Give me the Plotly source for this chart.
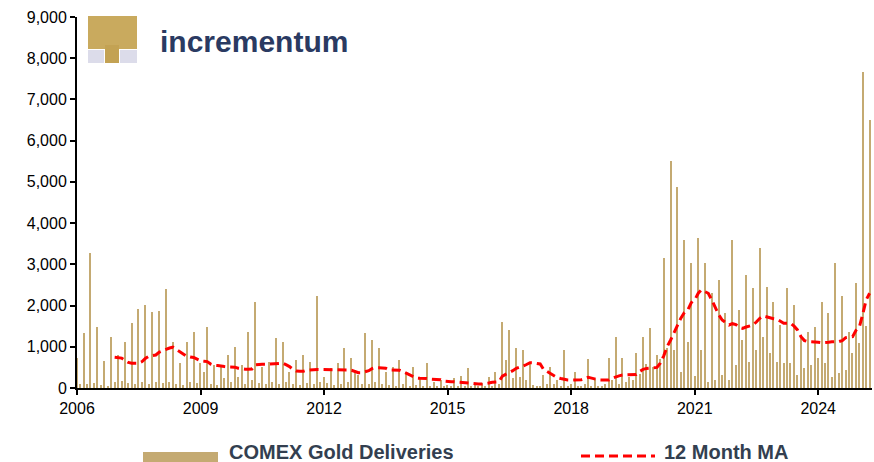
import pandas as pd
import plotly.graph_objects as go

# Monthly COMEX gold deliveries, Jan 2006 .. Apr 2025
deliveries = [
    # 2006
    735, 90, 1342, 100, 3270, 120, 1473, 80, 655, 60, 1246, 150,
    # 2007
    800, 180, 1108, 120, 1586, 100, 1910, 150, 2023, 90, 1845, 150,
    # 2008
    1861, 120, 2411, 150, 1117, 100, 598, 80, 1125, 150, 1367, 120,
    # 2009
    600, 396, 1489, 100, 550, 80, 518, 250, 800, 150, 1003, 275,
    # 2010
    558, 100, 1367, 194, 2095, 120, 518, 100, 640, 150, 1205, 100,
    # 2011
    1125, 150, 396, 100, 680, 80, 800, 120, 640, 100, 2233, 150,
    # 2012
    275, 130, 477, 80, 600, 100, 963, 150, 720, 437, 315, 100,
    # 2013
    1327, 100, 1165, 150, 963, 100, 396, 80, 518, 60, 680, 100,
    # 2014
    396, 60, 518, 80, 235, 50, 600, 60, 154, 40, 194, 60,
    # 2015
    73, 40, 235, 50, 290, 60, 477, 40, 100, 50, 110, 60,
    # 2016
    275, 60, 396, 100, 1610, 680, 1408, 235, 963, 275, 922, 200,
    # 2017
    600, 80, 60, 40, 315, 100, 518, 100, 194, 60, 922, 60,
    # 2018
    100, 396, 50, 60, 100, 696, 60, 210, 60, 60, 100, 720,
    # 2019
    200, 1246, 100, 720, 150, 275, 200, 841, 350, 1246, 580, 1448,
    # 2020
    500, 800, 700, 3147, 963, 5517, 922, 4886, 400, 3592, 1124, 3026,
    # 2021
    300, 3632, 922, 3042, 150, 2298, 200, 2621, 315, 1812, 200, 3592,
    # 2022
    558, 1893, 1165, 2742, 640, 2419, 922, 3390, 1246, 2459, 841, 2095,
    # 2023
    640, 1529, 600, 2419, 600, 2014, 315, 1246, 477, 1367, 558, 1489,
    # 2024
    720, 2095, 600, 1812, 275, 3042, 356, 2233, 437, 1367, 841, 2556,
    # 2025
    1100, 7677, 1500, 6504,
]

# 12 month moving average as drawn on the chart
ma_12m = [
    # 2006
    None, None, None, None, None, None, None, None, None, None, None, 745,
    # 2007
    740, 725, 670, 620, 600, 600, 600, 640, 720, 770, 777, 800,
    # 2008
    870, 910, 935, 970, 990, 930, 870, 820, 770, 750, 740, 700,
    # 2009
    660, 650, 640, 580, 550, 545, 540, 520, 510, 510, 505, 480,
    # 2010
    460, 455, 455, 460, 560, 575, 575, 575, 578, 578, 580, 580,
    # 2011
    600, 560, 520, 450, 410, 405, 405, 430, 445, 445, 450, 450,
    # 2012
    450, 450, 450, 450, 450, 445, 440, 435, 430, 400, 372, 372,
    # 2013
    390, 420, 470, 493, 493, 493, 480, 437, 437, 437, 430, 396,
    # 2014
    360, 315, 280, 240, 235, 235, 230, 215, 210, 210, 200, 170,
    # 2015
    154, 154, 154, 145, 130, 130, 130, 120, 100, 97, 97, 100,
    # 2016
    120, 138, 138, 150, 290, 330, 372, 420, 477, 500, 534, 570,
    # 2017
    615, 610, 590, 583, 453, 400, 356, 300, 250, 230, 210, 195,
    # 2018
    190, 190, 190, 200, 230, 259, 240, 210, 195, 194, 194, 194,
    # 2019
    240, 275, 295, 315, 315, 315, 315, 330, 400, 453, 475, 493,
    # 2020
    493, 500, 600, 780, 1000, 1165, 1350, 1500, 1700, 1830, 1893, 2071,
    # 2021
    2136, 2300, 2378, 2338, 2298, 2136, 1950, 1780, 1650, 1580, 1529, 1560,
    # 2022
    1540, 1470, 1448, 1480, 1500, 1529, 1600, 1691, 1748, 1720, 1691, 1680,
    # 2023
    1667, 1620, 1570, 1570, 1570, 1500, 1408, 1246, 1150, 1124, 1124, 1120,
    # 2024
    1110, 1100, 1100, 1110, 1120, 1124, 1124, 1150, 1222, 1235, 1246, 1400,
    # 2025
    1489, 1812, 2136, 2298,
]

months = pd.date_range("2006-01-01", periods=len(deliveries), freq="MS")

year_ticks = ["2006", "2009", "2012", "2015", "2018", "2021", "2024"]
y_ticks = [0, 1000, 2000, 3000, 4000, 5000, 6000, 7000, 8000, 9000]

bar_label = "COMEX Gold Deliveries"
ma_label = "12 Month MA"

GOLD = "#c4aa72"
RED = "#ff0000"
TXT = "#333f50"

W, H = 874, 462
L, R, T, B = 77, 2, 17, 74
PW, PH = W - L - R, H - T - B


def px(x, y):
    return (x - L) / PW, (H - B - y) / PH


fig = go.Figure()
fig.add_trace(go.Bar(
    x=months, y=deliveries, name=bar_label,
    marker=dict(color=GOLD, line=dict(width=0)),
    width=11 * 24 * 3600 * 1000,
))
fig.add_trace(go.Scatter(
    x=months, y=ma_12m, name=ma_label, mode="lines",
    line=dict(color=RED, width=3, dash="9px,5px"),
    connectgaps=False,
))

shapes = []
# legend swatches
x0, y0 = px(143, 452)
x1, y1 = px(218, 462)
shapes.append(dict(type="rect", xref="paper", yref="paper", x0=x0, x1=x1, y0=y1, y1=y0,
                   fillcolor=GOLD, line=dict(width=0)))
x0, y0 = px(581, 456)
x1, _ = px(655, 456)
shapes.append(dict(type="line", xref="paper", yref="paper", x0=x0, x1=x1, y0=y0, y1=y0,
                   line=dict(color=RED, width=3, dash="9px,5px")))


# logo icon
def rect(xa, ya, xb, yb, color):
    a, b = px(xa, ya)
    c, d = px(xb, yb)
    return dict(type="rect", xref="paper", yref="paper", x0=a, x1=c, y0=d, y1=b,
                fillcolor=color, line=dict(width=0), layer="above")


shapes.append(rect(88, 50, 104, 63, "#dcdcea"))
shapes.append(rect(120, 50, 137, 63, "#dcdcea"))
shapes.append(rect(88, 16, 137, 49, "#c9aa5e"))
shapes.append(rect(105, 45, 119, 63, "#c3a253"))

annotations = []
ax, ay = px(227, 452)
annotations.append(dict(text="<b>" + bar_label + "</b>", xref="paper", yref="paper", x=ax, y=ay,
                        xanchor="left", yanchor="middle", showarrow=False,
                        font=dict(family="Arial, Liberation Sans", size=20, color=TXT)))
ax, ay = px(662, 452)
annotations.append(dict(text="<b>" + ma_label + "</b>", xref="paper", yref="paper", x=ax, y=ay,
                        xanchor="left", yanchor="middle", showarrow=False,
                        font=dict(family="Arial, Liberation Sans", size=20, color=TXT)))
ax, ay = px(158, 41)
annotations.append(dict(text="<b>incrementum</b>", xref="paper", yref="paper", x=ax, y=ay,
                        xanchor="left", yanchor="middle", showarrow=False,
                        font=dict(family="Arial, Liberation Sans", size=30, color="#2a3a62")))

fig.update_layout(
    width=W, height=H,
    margin=dict(l=L, r=R, t=T, b=B),
    paper_bgcolor="white", plot_bgcolor="white",
    showlegend=False, bargap=0,
    shapes=shapes, annotations=annotations,
    font=dict(family="Arial, Liberation Sans", size=16, color="black"),
)
fig.update_xaxes(
    type="date", range=["2006-01-01", "2025-04-22"],
    tickvals=[f"{y}-01-01" for y in year_ticks], ticktext=year_ticks,
    showline=True, linecolor="black", linewidth=2,
    ticks="outside", ticklen=5, tickwidth=1.5, tickcolor="black",
    showgrid=False, zeroline=False,
    tickfont=dict(size=16, color="black"),
)
fig.update_yaxes(
    range=[0, 9000], tickvals=y_ticks, tickformat=",",
    showline=True, linecolor="black", linewidth=2,
    ticks="outside", ticklen=5, tickwidth=1.5, tickcolor="black",
    showgrid=False, zeroline=False,
    tickfont=dict(size=16, color="black"),
)

fig.write_html(
    "out.html",
    config={"displayModeBar": False},
    post_script="document.body.style.margin='0';document.body.style.overflow='hidden';",
)
